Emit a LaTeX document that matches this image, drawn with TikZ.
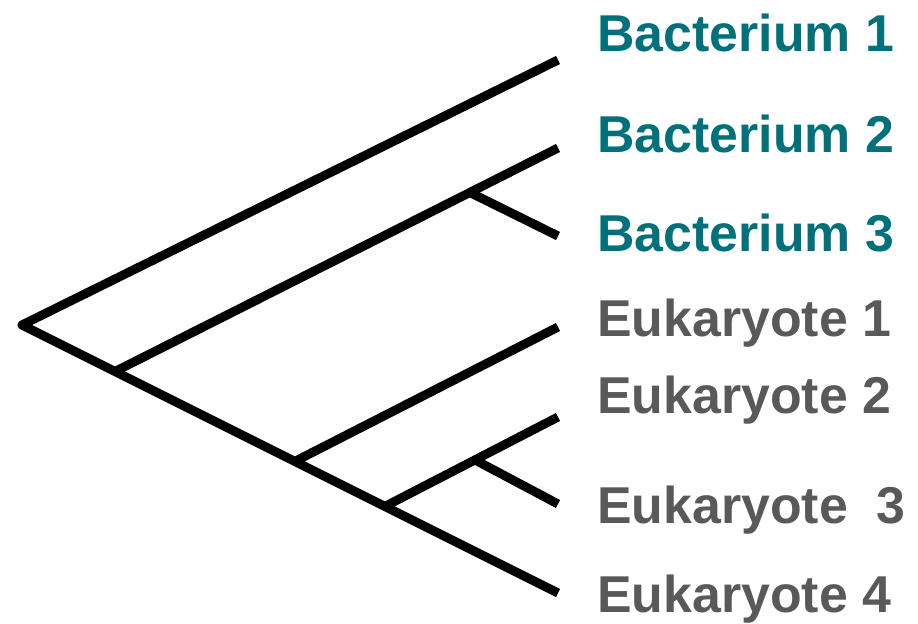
\documentclass[tikz,border=0pt]{standalone}
\usepackage{fontspec}
\setmainfont{Liberation Sans}
\usepackage{xcolor}
\usetikzlibrary{calc}
\definecolor{bactteal}{HTML}{00707A}
\definecolor{eukgray}{HTML}{595959}

\begin{document}
\begin{tikzpicture}[x=0.02cm,y=-0.02cm]
    \tikzset{
      branch/.style={draw=black,line width=0.18cm,line join=round},
      taxon/.style={anchor=base west,inner sep=0pt,font=\fontsize{29.5}{30}\selectfont\bfseries},
      bact/.style={taxon,text=bactteal},
      euk/.style={taxon,text=eukgray}
    }
    \useasboundingbox (0,0) rectangle (918,624);
    % tips and root
    \coordinate (root) at (22,325);
    \coordinate (tb1) at (558,60);
    \coordinate (tb2) at (558,148);
    \coordinate (tb3) at (558,236);
    \coordinate (te1) at (558,327);
    \coordinate (te2) at (558,417);
    \coordinate (te3) at (558,504);
    \coordinate (te4) at (558,593);
    % inner branch points
    \coordinate (nbact) at ($(root)!0.1735!(te4)$);
    \coordinate (nb23) at ($(nbact)!0.801!(tb2)$);
    \coordinate (neuk) at ($(root)!0.509!(te4)$);
    \coordinate (ne24) at ($(root)!0.677!(te4)$);
    \coordinate (ne23) at ($(ne24)!0.52!(te2)$);
    \draw[branch] (tb1) -- (root) -- (te4);
    \draw[branch] (nbact) -- (tb2);
    \draw[branch] (nb23) -- (tb3);
    \draw[branch] (neuk) -- (te1);
    \draw[branch] (ne24) -- (te2);
    \draw[branch] (ne23) -- (te3);
    % labels
    \node[bact] (lb1) at (597,52) {Bacterium 1};
    \node[bact] (lb2) at (597,153) {Bacterium 2};
    \node[bact] (lb3) at (597,252) {Bacterium 3};
    \node[euk] (le1) at (597,337) {Eukaryote 1};
    \node[euk] (le2) at (597,413) {Eukaryote 2};
    \node[euk] (le3) at (597,523) {Eukaryote \ 3};
    \node[euk] (le4) at (597,612) {Eukaryote 4};
  \end{tikzpicture}
\end{document}
